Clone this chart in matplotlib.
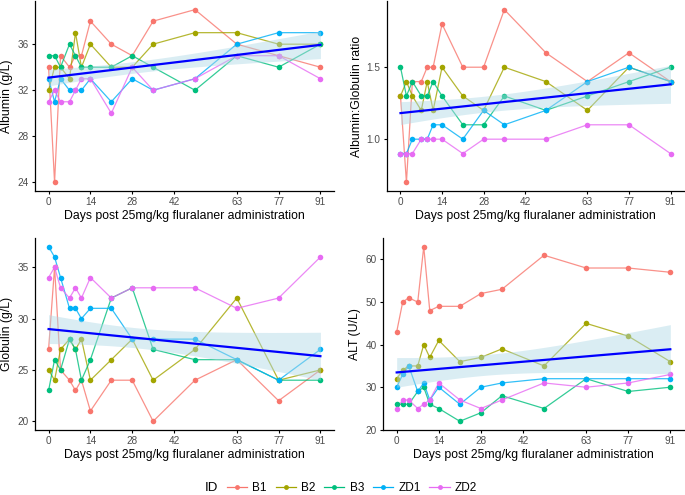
import numpy as np
import matplotlib
matplotlib.use('Agg')
import matplotlib.pyplot as plt
from matplotlib.lines import Line2D

plt.rcParams['font.family'] = ['Liberation Sans', 'DejaVu Sans']

# sampling days
days = [0, 2, 4, 7, 9, 11, 14, 21, 28, 35, 49, 63, 77, 91]
ids = ['B1', 'B2', 'B3', 'ZD1', 'ZD2']
colors = ['#F8766D', '#A3A500', '#00BF7D', '#00B0F6', '#E76BF3']

# values, one list per animal
albumin = {
    'B1':  [34, 24, 35, 34, 35, 35, 38, 36, 35, 38, 39, 36, 35, 34],
    'B2':  [32, 34, 34, 33, 37, 34, 36, 34, 34, 36, 37, 37, 36, 36],
    'B3':  [35, 35, 34, 36, 35, 34, 34, 34, 35, 34, 32, 35, 34, 36],
    'ZD1': [33, 31, 33, 32, 32, 32, 33, 31, 33, 32, 33, 36, 37, 37],
    'ZD2': [31, 32, 31, 31, 32, 33, 33, 30, 34, 32, 33, 35, 35, 33],
}
ratio = {
    'B1':  [1.3, 0.7, 1.4, 1.4, 1.5, 1.5, 1.8, 1.5, 1.5, 1.9, 1.6, 1.4, 1.6, 1.4],
    'B2':  [1.3, 1.4, 1.3, 1.2, 1.4, 1.2, 1.5, 1.3, 1.2, 1.5, 1.4, 1.2, 1.5, 1.4],
    'B3':  [1.5, 1.3, 1.4, 1.3, 1.3, 1.4, 1.3, 1.1, 1.1, 1.3, 1.2, 1.3, 1.4, 1.5],
    'ZD1': [0.9, 0.9, 1.0, 1.0, 1.0, 1.1, 1.1, 1.0, 1.2, 1.1, 1.2, 1.4, 1.5, 1.4],
    'ZD2': [0.9, 0.9, 0.9, 1.0, 1.0, 1.0, 1.0, 0.9, 1.0, 1.0, 1.0, 1.1, 1.1, 0.9],
}
globulin = {
    'B1':  [27, 35, 25, 24, 23, 24, 21, 24, 24, 20, 24, 26, 22, 25],
    'B2':  [25, 24, 27, 28, 27, 28, 24, 26, 28, 24, 27, 32, 24, 25],
    'B3':  [23, 26, 25, 28, 27, 24, 26, 32, 33, 27, 26, 26, 24, 24],
    'ZD1': [37, 36, 34, 31, 31, 30, 31, 31, 28, 28, 28, 26, 24, 27],
    'ZD2': [34, 35, 33, 32, 33, 32, 34, 32, 33, 33, 33, 31, 32, 36],
}
alt = {
    'B1':  [43, 50, 51, 50, 63, 48, 49, 49, 52, 53, 61, 58, 58, 57],
    'B2':  [32, 34, 35, 35, 40, 37, 41, 36, 37, 39, 35, 45, 42, 36],
    'B3':  [26, 26, 26, 29, 30, 26, 25, 22, 24, 28, 25, 32, 29, 30],
    'ZD1': [30, 33, 35, 29, 31, 27, 30, 26, 30, 31, 32, 32, 32, 32],
    'ZD2': [25, 27, 27, 25, 26, 27, 31, 27, 25, 27, 31, 30, 31, 33],
}

x_ticks = [0, 14, 28, 42, 63, 77, 91]
xlabel = 'Days post 25mg/kg fluralaner administration'

panels = [
    (albumin, 'Albumin (g/L)', [24, 28, 32, 36], ['24', '28', '32', '36']),
    (ratio, 'Albumin:Globulin ratio', [1.0, 1.5], ['1.0', '1.5']),
    (globulin, 'Globulin (g/L)', [20, 25, 30, 35], ['20', '25', '30', '35']),
    (alt, 'ALT (U/L)', [20, 30, 40, 50, 60], ['20', '30', '40', '50', '60']),
]

# axes boxes in figure fractions (left, bottom, width, height)
W, H = 685, 495
boxes = [
    (35 / W, 1 - 191 / H, 299 / W, 190 / H),
    (387 / W, 1 - 191 / H, 297 / W, 190 / H),
    (35 / W, 1 - 430 / H, 299 / W, 192 / H),
    (383 / W, 1 - 430 / H, 301 / W, 192 / H),
]


def lm_ci(x, y, grid):
    # ordinary least squares with 95% confidence band, like geom_smooth(method='lm')
    n = len(x)
    b, a = np.polyfit(x, y, 1)
    resid = y - (a + b * x)
    s = np.sqrt(np.sum(resid ** 2) / (n - 2))
    sxx = np.sum((x - x.mean()) ** 2)
    se = s * np.sqrt(1 / n + (grid - x.mean()) ** 2 / sxx)
    fit = a + b * grid
    t = 1.995
    return fit, fit - t * se, fit + t * se


fig = plt.figure(figsize=(6.85, 4.95), dpi=100)

for (data, ylabel, yt, ytl), box in zip(panels, boxes):
    ax = fig.add_axes(box)
    all_x, all_y = [], []
    for name, col in zip(ids, colors):
        vals = data[name]
        ax.plot(days, vals, color=col, lw=0.9, alpha=0.8, zorder=2)
        ax.plot(days, vals, 'o', color=col, ms=4, mec='none', zorder=3)
        all_x += days
        all_y += vals
    all_x = np.array(all_x, dtype=float)
    all_y = np.array(all_y, dtype=float)
    grid = np.linspace(0, 91, 100)
    fit, lo, hi = lm_ci(all_x, all_y, grid)
    ax.fill_between(grid, lo, hi, color='#ADD8E6', alpha=0.45, lw=0, zorder=4)
    ax.plot(grid, fit, color='#0000FF', lw=1.6, zorder=5)

    ax.margins(x=0.05, y=0.05)
    ax.set_xticks(x_ticks)
    ax.set_yticks(yt)
    ax.set_yticklabels(ytl)
    ax.set_xlabel(xlabel, fontsize=8.8, labelpad=2)
    ax.set_ylabel(ylabel, fontsize=8.8, labelpad=3)
    for sp in ['top', 'right']:
        ax.spines[sp].set_visible(False)
    for sp in ['left', 'bottom']:
        ax.spines[sp].set_linewidth(0.9)
    ax.tick_params(labelsize=7.2, labelcolor='#4D4D4D', length=2.5, width=0.8, pad=2)

# legend along the bottom
handles = [Line2D([0], [0], color=c, lw=0.9, marker='o', ms=3.5, mec='none') for c in colors]
fig.text(205 / W, 1 - 488 / H, 'ID', fontsize=9.5, ha='left', va='center')
fig.legend(handles, ids, loc='center', bbox_to_anchor=(352 / W, 1 - 488 / H), ncol=5,
           frameon=False, fontsize=8.5, handlelength=1.7, handletextpad=0.45,
           columnspacing=0.75, borderpad=0)

plt.savefig('out.png', dpi=100)
